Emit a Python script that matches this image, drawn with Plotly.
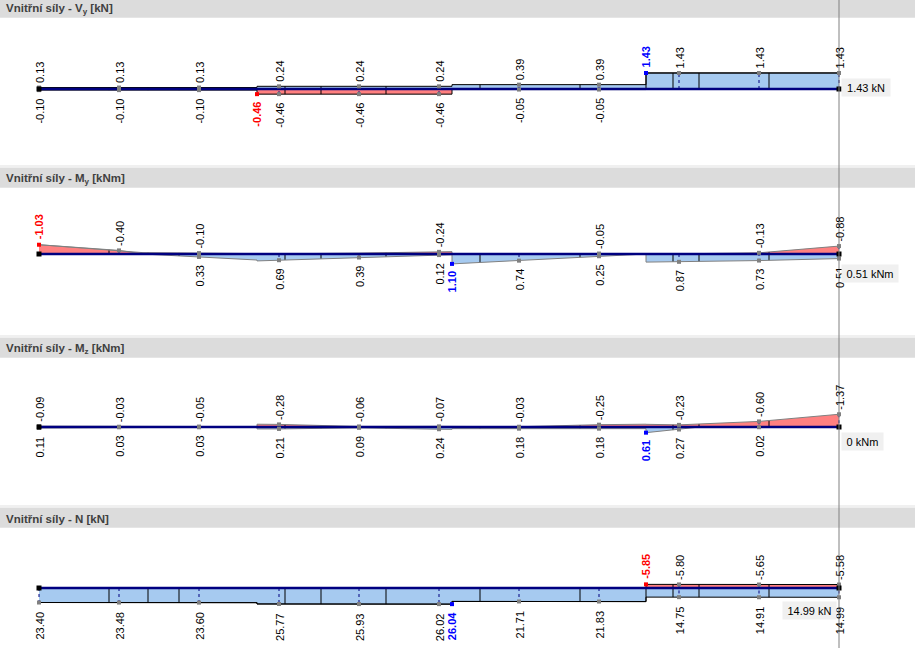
import numpy as np
import plotly.graph_objects as go

# stations along the beam (labelled points) and inner mesh lines
stations = list(range(11))
elem_x = [0.875, 1.3625, 1.75, 3.075, 3.525, 4.3375, 5.5125, 6.7625, 7.925, 8.25, 9.125]

# Vy [kN]
vy_x = [0, 2.725, 2.725, 5.1625, 5.1625, 7.5875, 7.5875, 10]
vy_max = [0.13, 0.13, 0.24, 0.24, 0.39, 0.39, 1.43, 1.43]
vy_min = [-0.10, -0.10, -0.46, -0.46, -0.05, -0.05, 1.43, 1.43]
vy_top = [0.13, 0.13, 0.13, 0.24, 0.24, 0.24, 0.39, 0.39, 1.43, 1.43, 1.43]
vy_bot = [-0.10, -0.10, -0.10, -0.46, -0.46, -0.46, -0.05, -0.05, None, None, None]
vy_ext_x = [2.725, 7.5875]
vy_ext_v = [-0.46, 1.43]

# My [kNm]
my_x = [0, 1, 1.3, 2, 2.725, 2.725, 3, 4, 5, 5.1625, 5.1625, 6, 7, 7.5875, 7.5875, 8, 9, 10]
my_max = [-1.03, -0.40, 0.00, 0.33, 0.67, 0.77, 0.69, 0.39, 0.12, 0.08, 1.10, 0.74, 0.25, 0.00, 0.90, 0.87, 0.73, 0.51]
my_min = [-1.03, -0.40, -0.15, -0.10, -0.05, -0.02, -0.02, -0.10, -0.24, -0.26, -0.02, -0.03, -0.05, -0.05, 0.00, -0.02, -0.13, -0.88]
my_top = [None, -0.40, -0.10, None, None, -0.24, None, -0.05, None, -0.13, -0.88]
my_bot = [None, None, 0.33, 0.69, 0.39, 0.12, 0.74, 0.25, 0.87, 0.73, 0.51]
my_ext_x = [0, 5.1625]
my_ext_v = [-1.03, 1.10]

# Mz [kNm]
mz_x = [0, 1, 2, 2.725, 2.725, 3, 4, 5, 5.1625, 5.1625, 6, 7, 7.5875, 7.5875, 8, 8.26, 9, 10]
mz_max = [0.11, 0.03, 0.03, 0.05, 0.21, 0.21, 0.09, 0.24, 0.25, 0.18, 0.18, 0.18, 0.18, 0.61, 0.27, 0.00, 0.02, 0.00]
mz_min = [-0.09, -0.03, -0.05, -0.05, -0.30, -0.28, -0.06, -0.07, -0.07, -0.03, -0.03, -0.25, -0.30, -0.29, -0.23, -0.33, -0.60, -1.37]
mz_top = [-0.09, -0.03, -0.05, -0.28, -0.06, -0.07, -0.03, -0.25, -0.23, -0.60, -1.37]
mz_bot = [0.11, 0.03, 0.03, 0.21, 0.09, 0.24, 0.18, 0.18, 0.27, 0.02, None]
mz_ext_x = [7.5875]
mz_ext_v = [0.61]

# N [kN]
n_x = [0, 1, 2, 2.725, 2.725, 3, 4, 5, 5.1625, 5.1625, 6, 7, 7.5875, 7.5875, 8, 9, 10]
n_max = [23.40, 23.48, 23.60, 23.65, 25.75, 25.77, 25.93, 26.02, 26.04, 21.67, 21.71, 21.83, 21.90, 14.70, 14.75, 14.91, 14.99]
n_min = [23.40, 23.48, 23.60, 23.65, 25.75, 25.77, 25.93, 26.02, 26.04, 21.67, 21.71, 21.83, 21.90, -5.85, -5.80, -5.65, -5.58]
n_top = [None] * 8 + [-5.80, -5.65, -5.58]
n_bot = [23.40, 23.48, 23.60, 25.77, 25.93, 26.02, 21.71, 21.83, 14.75, 14.91, 14.99]
n_ext_x = [7.5875, 5.1625]
n_ext_v = [-5.85, 26.04]

W, H = 915, 648
X0, XS = 39, 80  # px of beam start, px per metre

BLUE = '#a6caf0'
RED = '#ff8080'
NAVY = '#000080'
LABEL_FONT = 'Liberation Sans, Arial, sans-serif'
TOP_SHIFT, BOT_SHIFT = 2, -7

panels = [
    dict(title='Vnitřní síly - V<sub>y</sub> [kN]', x=vy_x, mx=vy_max, mn=vy_min, top=vy_top, bot=vy_bot,
         ext_x=vy_ext_x, ext_v=vy_ext_v, tip='1.43 kN', base=89, scale=11.2, up=True, edge='black',
         hdr=-2.3, tip_pos=dict(xanchor='left', xshift=2, yshift=11, width=46)),
    dict(title='Vnitřní síly - M<sub>y</sub> [kNm]', x=my_x, mx=my_max, mn=my_min, top=my_top, bot=my_bot,
         ext_x=my_ext_x, ext_v=my_ext_v, tip='0.51 kNm', base=254, scale=9.0, up=False, edge='#808080',
         hdr=167.7, tip_pos=dict(xanchor='left', xshift=2, yshift=-10, width=54)),
    dict(title='Vnitřní síly - M<sub>z</sub> [kNm]', x=mz_x, mx=mz_max, mn=mz_min, top=mz_top, bot=mz_bot,
         ext_x=mz_ext_x, ext_v=mz_ext_v, tip='0 kNm', base=427, scale=9.3, up=False, edge='#808080',
         hdr=337.7, tip_pos=dict(xanchor='left', xshift=2, yshift=-5, width=39)),
    dict(title='Vnitřní síly - N [kN]', x=n_x, mx=n_max, mn=n_min, top=n_top, bot=n_bot,
         ext_x=n_ext_x, ext_v=n_ext_v, tip='14.99 kN', base=588, scale=0.62, up=False, edge='black',
         hdr=507.7, tip_pos=dict(xanchor='right', xshift=-2, yshift=-13, width=51)),
]

fig = go.Figure()
annotations = []
shapes = []


def py(px):
    return 1 - px / H


for k, p in enumerate(panels, start=1):
    ya = 'y' if k == 1 else f'y{k}'
    x = np.array(p['x'], dtype=float)
    mx = np.array(p['mx'], dtype=float)
    mn = np.array(p['mn'], dtype=float)

    # filled diagram
    fig.add_trace(go.Scatter(x=x, y=np.maximum(mx, 0), yaxis=ya, mode='lines', fill='tozeroy',
                             fillcolor=BLUE, line=dict(width=0), hoverinfo='skip'))
    fig.add_trace(go.Scatter(x=x, y=np.minimum(mn, 0), yaxis=ya, mode='lines', fill='tozeroy',
                             fillcolor=RED, line=dict(width=0), hoverinfo='skip'))

    # mesh division lines
    ex, ey = [], []
    for e in elem_x:
        lo = min(0, np.interp(e, x, mn))
        hi = max(0, np.interp(e, x, mx))
        ex += [e, e, None]
        ey += [lo, hi, None]
    fig.add_trace(go.Scatter(x=ex, y=ey, yaxis=ya, mode='lines', line=dict(color='black', width=1),
                             hoverinfo='skip'))

    # dashed station lines
    sx, sy = [], []
    for s, t, b in zip(stations, p['top'], p['bot']):
        vals = [0] + [v for v in (t, b) if v is not None]
        sx += [s, s, None]
        sy += [min(vals), max(vals), None]
    fig.add_trace(go.Scatter(x=sx, y=sy, yaxis=ya, mode='lines',
                             line=dict(color=NAVY, width=1, dash='dot'), hoverinfo='skip'))

    # outlines of the envelope
    for curve in (mx, mn):
        fig.add_trace(go.Scatter(x=x, y=curve, yaxis=ya, mode='lines',
                                 line=dict(color=p['edge'], width=1), hoverinfo='skip'))

    # beam axis
    fig.add_trace(go.Scatter(x=[0, 10], y=[0, 0], yaxis=ya, mode='lines',
                             line=dict(color=NAVY, width=2.5), hoverinfo='skip'))

    # station markers + labels
    mxs, mys = [], []
    for s, t, b in zip(stations, p['top'], p['bot']):
        for v, above in ((t, True), (b, False)):
            if v is None:
                continue
            mxs.append(s)
            mys.append(v)
            annotations.append(dict(x=s, y=v, xref='x', yref=ya, text=f'{v:.2f}', showarrow=False,
                                    textangle=-90, xshift=1, yshift=TOP_SHIFT if above else BOT_SHIFT,
                                    yanchor='bottom' if above else 'top',
                                    font=dict(family=LABEL_FONT, size=11, color='black')))
    fig.add_trace(go.Scatter(x=mxs, y=mys, yaxis=ya, mode='markers',
                             marker=dict(symbol='square', size=4, color='#808080'), hoverinfo='skip'))

    # extreme values
    for ex_, ev in zip(p['ext_x'], p['ext_v']):
        col = '#0000ff' if ev > 0 else '#ff0000'
        above = (ev > 0) == p['up']
        fig.add_trace(go.Scatter(x=[ex_], y=[ev], yaxis=ya, mode='markers',
                                 marker=dict(symbol='square', size=4, color=col), hoverinfo='skip'))
        annotations.append(dict(x=ex_, y=ev, xref='x', yref=ya, text=f'<b>{ev:.2f}</b>', showarrow=False,
                                textangle=-90, xshift=0, yshift=TOP_SHIFT + 1 if above else BOT_SHIFT + 1,
                                yanchor='bottom' if above else 'top',
                                font=dict(family=LABEL_FONT, size=11, color=col)))

    # beam end nodes
    fig.add_trace(go.Scatter(x=[0, 10], y=[0, 0], yaxis=ya, mode='markers',
                             marker=dict(symbol='square', size=5, color='black'), hoverinfo='skip'))

    # value tooltip at cursor
    tp = p['tip_pos']
    annotations.append(dict(x=10, y=0, xref='x', yref=ya, text=p['tip'], showarrow=False,
                            xanchor=tp['xanchor'], xshift=tp['xshift'], yanchor='top', yshift=tp['yshift'],
                            width=tp['width'], height=15, borderpad=1, bgcolor='#f0f0f0',
                            font=dict(family=LABEL_FONT, size=11, color='black')))

    # header bar
    top = p['hdr']
    if k > 1:
        shapes.append(dict(type='rect', xref='paper', yref='paper', x0=0, x1=1,
                           y0=py(top), y1=py(top - 2.7), fillcolor='#f0f0f0', line=dict(width=0), layer='below'))
    shapes.append(dict(type='rect', xref='paper', yref='paper', x0=0, x1=1,
                       y0=py(top + 20), y1=py(top), fillcolor='#dcdcdc', line=dict(width=0), layer='below'))
    annotations.append(dict(x=5 / W, y=py(top + 11.3), xref='paper', yref='paper', text='<b>' + p['title'] + '</b>',
                            showarrow=False, xanchor='left', yanchor='middle', xshift=-1,
                            font=dict(family=LABEL_FONT, size=11.5, color='#404040')))

    # y axis: baseline at p['base'] px, p['scale'] px per unit
    b, s = p['base'], p['scale']
    rng = [-(H - b) / s, b / s] if p['up'] else [(H - b) / s, -b / s]
    ax = dict(domain=[0, 1], range=rng, visible=False, fixedrange=True)
    if k > 1:
        ax['overlaying'] = 'y'
    fig.layout['yaxis' if k == 1 else f'yaxis{k}'] = ax

# cursor line through all panels
shapes.append(dict(type='line', xref='x', yref='paper', x0=10, x1=10, y0=0, y1=1,
                   line=dict(color='#808080', width=1), layer='above'))

fig.update_layout(
    width=W, height=H,
    margin=dict(l=0, r=0, t=0, b=0),
    paper_bgcolor='white', plot_bgcolor='white',
    showlegend=False,
    xaxis=dict(range=[-X0 / XS, (W - X0) / XS], visible=False, fixedrange=True),
    shapes=shapes,
    annotations=annotations,
)

fig.write_html('out.html', config={'displayModeBar': False},
               post_script="document.body.style.margin='0';")
